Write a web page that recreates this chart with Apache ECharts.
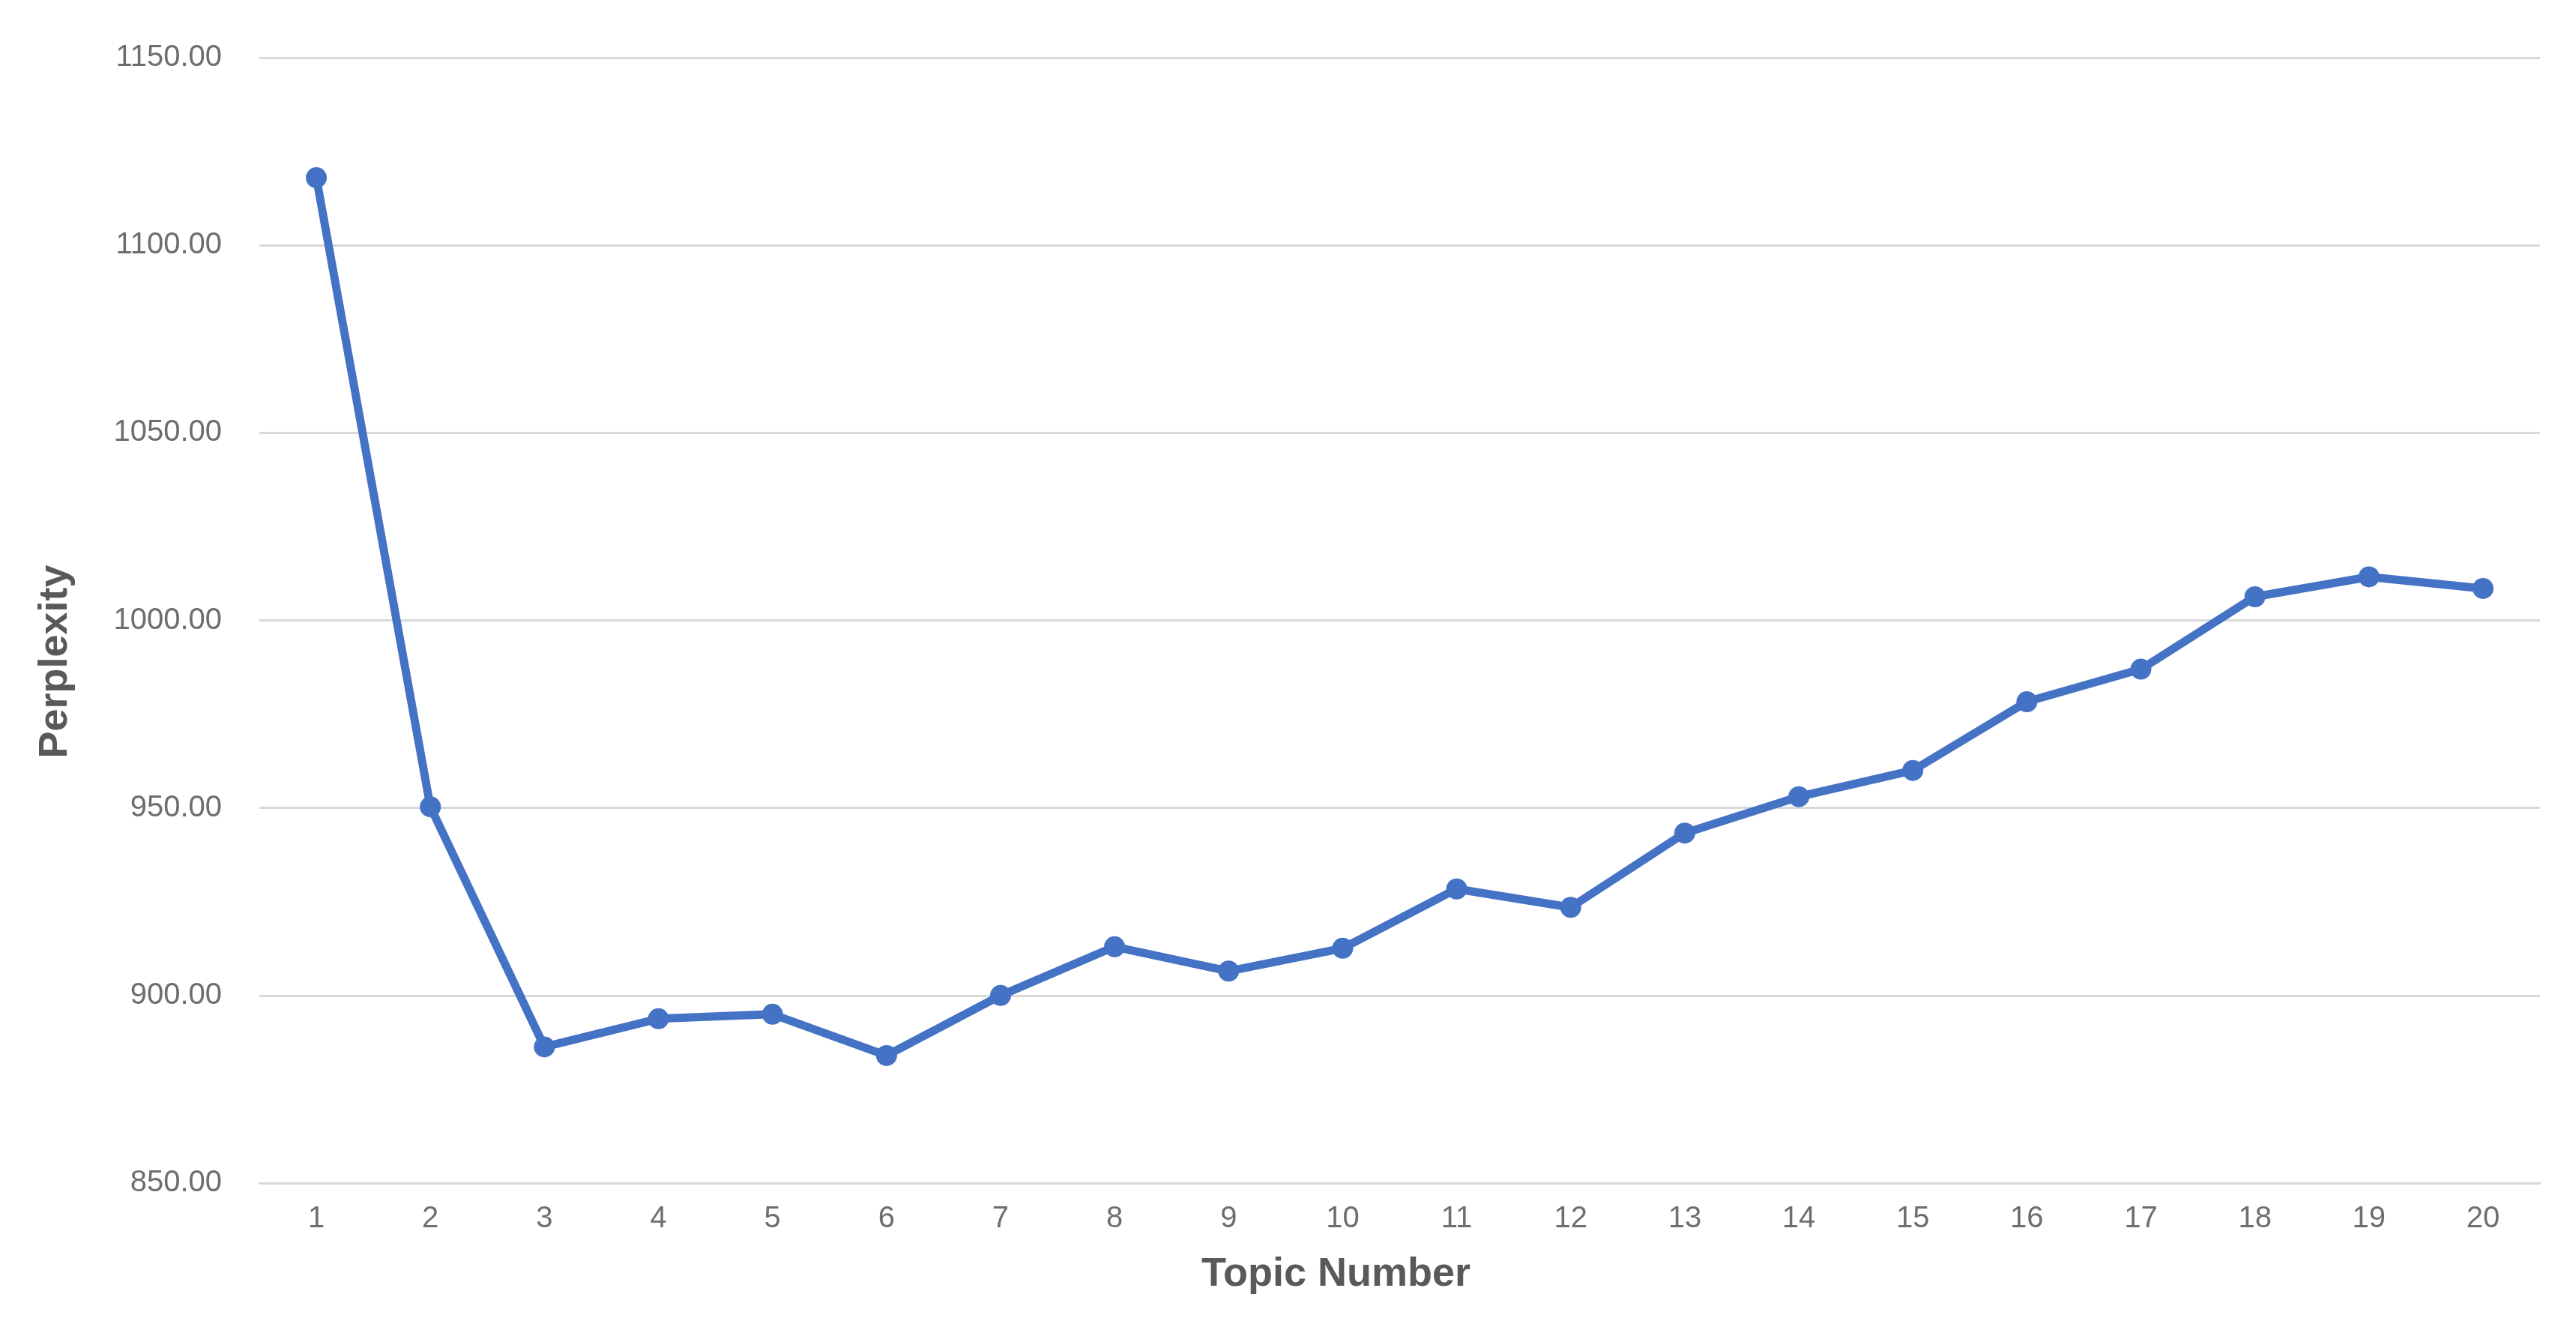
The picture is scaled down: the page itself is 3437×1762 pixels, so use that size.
<!DOCTYPE html>
<html><head><meta charset="utf-8">
<script src="https://cdn.jsdelivr.net/npm/echarts@6/dist/echarts.min.js"></script>
<style>html,body{margin:0;padding:0;background:#fff}#c{width:3437px;height:1762px}</style>
</head><body><div id="c"></div>
<script>
const categories = ['1','2','3','4','5','6','7','8','9','10','11','12','13','14','15','16','17','18','19','20'];
const perplexity = [1118, 950.3, 886.3, 893.8, 895, 884, 900, 913, 906.5, 912.6, 928.4, 923.5, 943.3, 953, 960, 978.3, 987, 1006.3, 1011.6, 1008.5];
const chart = echarts.init(document.getElementById('c'));
chart.setOption({
  animation: false,
  grid: {left: 346, right: 48, top: 77, bottom: 184},
  xAxis: {
    type: 'category', data: categories, boundaryGap: true,
    name: 'Topic Number', nameLocation: 'middle', nameGap: 95,
    nameTextStyle: {fontFamily: 'Liberation Sans', fontSize: 54, fontWeight: 'bold', color: '#595959', padding: [0, 170, 0, 0]},
    axisLine: {lineStyle: {color: '#d9d9d9', width: 3}},
    axisTick: {show: false},
    axisLabel: {fontFamily: 'Liberation Sans', fontSize: 40, color: '#6e6e6e', margin: 28}
  },
  yAxis: {
    type: 'value', min: 850, max: 1150, interval: 50,
    name: 'Perplexity', nameLocation: 'middle', nameGap: 245,
    nameTextStyle: {fontFamily: 'Liberation Sans', fontSize: 54, fontWeight: 'bold', color: '#595959', padding: [0, 110, 0, 0]},
    axisLine: {show: false}, axisTick: {show: false},
    splitLine: {lineStyle: {color: '#d9d9d9', width: 3}},
    axisLabel: {fontFamily: 'Liberation Sans', fontSize: 40, color: '#6e6e6e', margin: 50,
      formatter: v => v.toFixed(2)}
  },
  series: [{
    type: 'line', data: perplexity, symbol: 'circle', symbolSize: 28,
    lineStyle: {color: '#4472c4', width: 11},
    itemStyle: {color: '#4472c4'}
  }]
});
</script></body></html>
